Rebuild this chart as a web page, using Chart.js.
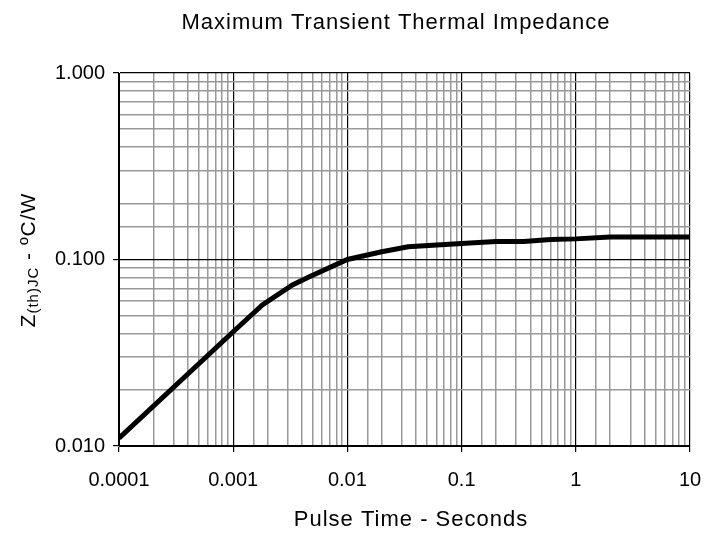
<!DOCTYPE html>
<html>
<head>
<meta charset="utf-8">
<script src="https://cdn.jsdelivr.net/npm/chart.js@4"></script>
<style>
  html, body { margin: 0; padding: 0; background: #fff; }
  #wrap { width: 719px; height: 536px; }
</style>
</head>
<body>
<div id="wrap"><canvas id="zth" width="719" height="536"></canvas></div>
<script>
// pulse time (s) vs Zth(JC) (degC/W)
const pulseTime = [0.0001, 0.001, 0.0018, 0.0033, 0.0047, 0.01, 0.02, 0.034, 0.1, 0.2, 0.35, 0.6, 1, 2, 10];
const zth = [0.011, 0.041, 0.057, 0.073, 0.081, 0.100, 0.110, 0.117, 0.122, 0.125, 0.125, 0.128, 0.129, 0.132, 0.132];

const xTickLabels = ["0.0001", "0.001", "0.01", "0.1", "1", "10"];
const yTickLabels = ["0.010", "0.100", "1.000"];

const chartTitle = "Maximum Transient Thermal Impedance";
const xTitle = "Pulse Time - Seconds";

const FONT = "Arial, 'Liberation Sans', sans-serif";

function isDecade(v) {
    let l = Math.log10(v);
    return Math.abs(l - Math.round(l)) < 1e-6;
}

function majorLabel(list, v) {
    if (!isDecade(v)) return "";
    for (let s of list) {
        if (Math.abs(Math.log10(parseFloat(s)) - Math.log10(v)) < 1e-6) return s;
    }
    return "";
}

// title + axis titles (y one has a subscript)
const textPlugin = {
    id: "texts",
    afterDraw(chart) {
        const ctx = chart.ctx;
        ctx.save();
        ctx.letterSpacing = "1px";
        ctx.fillStyle = "#000";
        ctx.textAlign = "center";
        ctx.textBaseline = "middle";
        ctx.font = "22px " + FONT;
        ctx.fillText(chartTitle, 396, 23);
        ctx.fillText(xTitle, 411, 520);

        // y label
        ctx.translate(29, 260);
        ctx.rotate(-Math.PI / 2);
        const parts = [
            { t: "Z", f: "21px " + FONT, dy: 0 },
            { t: "(th)JC", f: "15px " + FONT, dy: 5 },
            { t: " - \u00BAC/W", f: "21px " + FONT, dy: 0 },
        ];
        let total = 0;
        for (const p of parts) { ctx.font = p.f; total += ctx.measureText(p.t).width; }
        let x = -total / 2;
        ctx.textAlign = "left";
        for (const p of parts) {
            ctx.font = p.f;
            ctx.fillText(p.t, x, p.dy);
            x += ctx.measureText(p.t).width;
        }
        ctx.restore();
    }
};

new Chart(document.getElementById("zth"), {
    type: "line",
    data: {
        datasets: [{
            data: pulseTime.map((t, i) => ({ x: t, y: zth[i] })),
            borderColor: "#000",
            borderWidth: 5,
            pointRadius: 0,
            tension: 0,
            fill: false,
        }]
    },
    options: {
        responsive: false,
        animation: false,
        layout: { padding: { left: 0, right: 29, top: 73, bottom: 0 } },
        plugins: {
            legend: { display: false },
            tooltip: { enabled: false },
            title: { display: false },
        },
        scales: {
            x: {
                type: "logarithmic",
                min: 0.0001,
                max: 10,
                afterFit: (s) => { s.height = 90; },
                border: { display: true, color: "#000", width: 1 },
                grid: {
                    color: (c) => isDecade(c.tick.value) ? "#000" : "#999",
                    lineWidth: (c) => isDecade(c.tick.value) ? 1.2 : 1.5,
                    tickColor: (c) => isDecade(c.tick.value) ? "#000" : "rgba(0,0,0,0)",
                    tickLength: 6,
                },
                ticks: {
                    autoSkip: false,
                    maxRotation: 0,
                    padding: 16,
                    color: "#000",
                    font: { size: 20, family: FONT },
                    callback: (v) => majorLabel(xTickLabels, v),
                },
            },
            y: {
                type: "logarithmic",
                min: 0.01,
                max: 1,
                afterFit: (s) => { s.width = 119; },
                border: { display: true, color: "#000", width: 1 },
                grid: {
                    color: (c) => isDecade(c.tick.value) ? "#000" : "#999",
                    lineWidth: (c) => isDecade(c.tick.value) ? 1.2 : 1.5,
                    tickColor: (c) => isDecade(c.tick.value) ? "#000" : "rgba(0,0,0,0)",
                    tickLength: 6,
                },
                ticks: {
                    autoSkip: false,
                    padding: 8,
                    color: "#000",
                    font: { size: 20, family: FONT },
                    callback: (v) => majorLabel(yTickLabels, v),
                },
            },
        },
    },
    plugins: [textPlugin],
});
</script>
</body>
</html>
